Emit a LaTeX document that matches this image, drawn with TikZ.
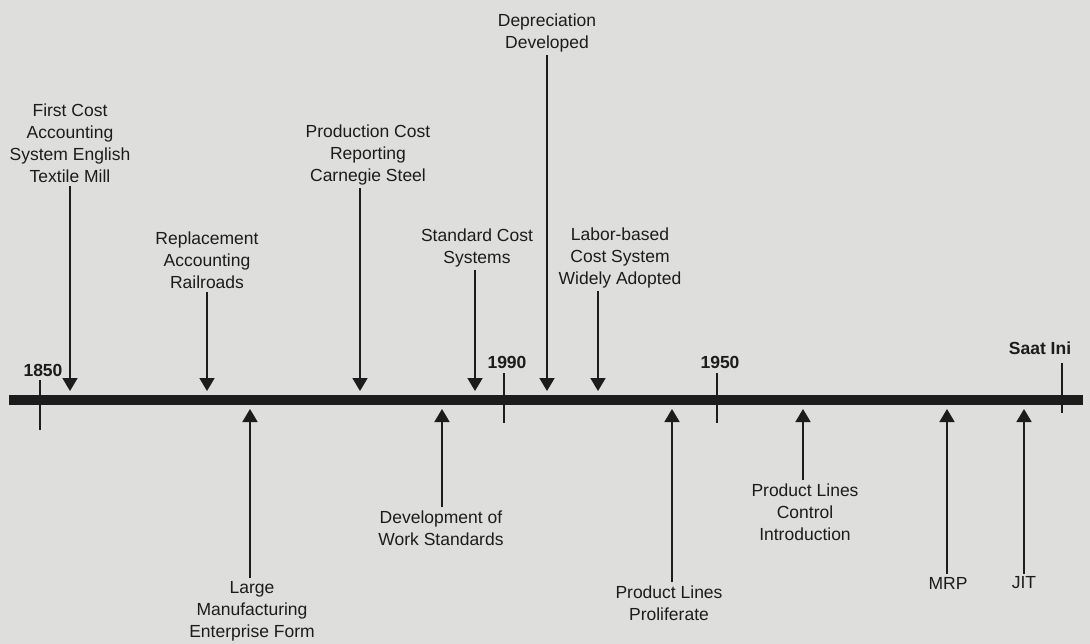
\documentclass[tikz,border=0pt]{standalone}
\usepackage{fontspec}
\setmainfont{Liberation Sans}
\usepackage{tikz}
\usetikzlibrary{arrows.meta,positioning,calc}

\definecolor{paper}{RGB}{222,222,220}
\definecolor{ink}{RGB}{28,28,28}

\begin{document}
\begin{tikzpicture}[x=1pt, y=-1pt,
    event/.style={align=center, inner sep=3pt, text=ink, font=\fontsize{17.5}{22}\selectfont},
    year/.style={inner sep=1pt, text=ink, font=\fontsize{17.5}{22}\selectfont\bfseries},
    bar/.style={line width=10pt, draw=ink},
    tick/.style={line width=2pt, draw=ink},
    arrow/.style={-{Triangle[width=15pt, length=13pt]}, line width=1.8pt, draw=ink},
    every node/.style={font=\fontsize{17.5}{22}\selectfont}
]

\useasboundingbox[fill=paper] (0,0) rectangle (1090,644);

% Time line
\coordinate (barL) at (9,400);
\coordinate (barR) at (1083,400);
\draw[bar] (barL) -- (barR);

% Years
\node[year] (y1850) at (43,370) {1850};
\node[year] (y1990) at (507,362) {1990};
\node[year] (y1950) at (720,362) {1950};
\node[year] (ynow) at (1040,348) {Saat Ini};
\coordinate (k1850) at (40,405);
\coordinate (k1990) at (504,398);
\coordinate (k1950) at (717,398);
\coordinate (know) at (1062,388);
\draw[tick] (k1850) ++(0,-25) -- ++(0,50);
\draw[tick] (k1990) ++(0,-25) -- ++(0,50);
\draw[tick] (k1950) ++(0,-25) -- ++(0,50);
\draw[tick] (know) ++(0,-25) -- ++(0,50);

% Events above the line
\node[event] (first) at (70,143) {First Cost\\Accounting\\System English\\Textile Mill};
\node[event] (repl) at (207,260) {Replacement\\Accounting\\Railroads};
\node[event] (prod) at (368,155) {Production Cost\\Reporting\\Carnegie Steel};
\node[event] (std) at (477,248) {Standard Cost\\Systems};
\node[event] (depr) at (547,33) {Depreciation\\Developed};
\node[event] (labor) at (620,258) {Labor-based\\Cost System\\Widely Adopted};

\coordinate (a-first) at (70,391);
\coordinate (a-repl) at (207,391);
\coordinate (a-prod) at (360,391);
\coordinate (a-std) at (475,391);
\coordinate (a-depr) at (547,391);
\coordinate (a-labor) at (598,391);

\draw[arrow] (a-first |- first.south) -- (a-first);
\draw[arrow] (a-repl |- repl.south) -- (a-repl);
\draw[arrow] (a-prod |- prod.south) -- (a-prod);
\draw[arrow] (a-std |- std.south) -- (a-std);
\draw[arrow] (a-depr |- depr.south) -- (a-depr);
\draw[arrow] (a-labor |- labor.south) -- (a-labor);

% Events below the line
\node[event] (large) at (252,611) {Large\\Manufacturing\\Enterprise Form};
\node[event] (work) at (441,528) {Development of\\Work Standards};
\node[event] (prolif) at (669,603) {Product Lines\\Proliferate};
\node[event] (control) at (805,512) {Product Lines\\Control\\Introduction};
\node[event] (mrp) at (948,583) {MRP};
\node[event] (jit) at (1024,583) {JIT};

\coordinate (a-large) at (250,409);
\coordinate (a-work) at (442,409);
\coordinate (a-prolif) at (672,409);
\coordinate (a-control) at (803,409);
\coordinate (a-mrp) at (947,409);
\coordinate (a-jit) at (1024,409);

\draw[arrow] (a-large |- large.north) -- (a-large);
\draw[arrow] (a-work |- work.north) -- (a-work);
\draw[arrow] (a-prolif |- prolif.north) -- (a-prolif);
\draw[arrow] (a-control |- control.north) -- (a-control);
\draw[arrow] (a-mrp |- mrp.north) -- (a-mrp);
\draw[arrow] (a-jit |- jit.north) -- (a-jit);

\end{tikzpicture}
\end{document}
